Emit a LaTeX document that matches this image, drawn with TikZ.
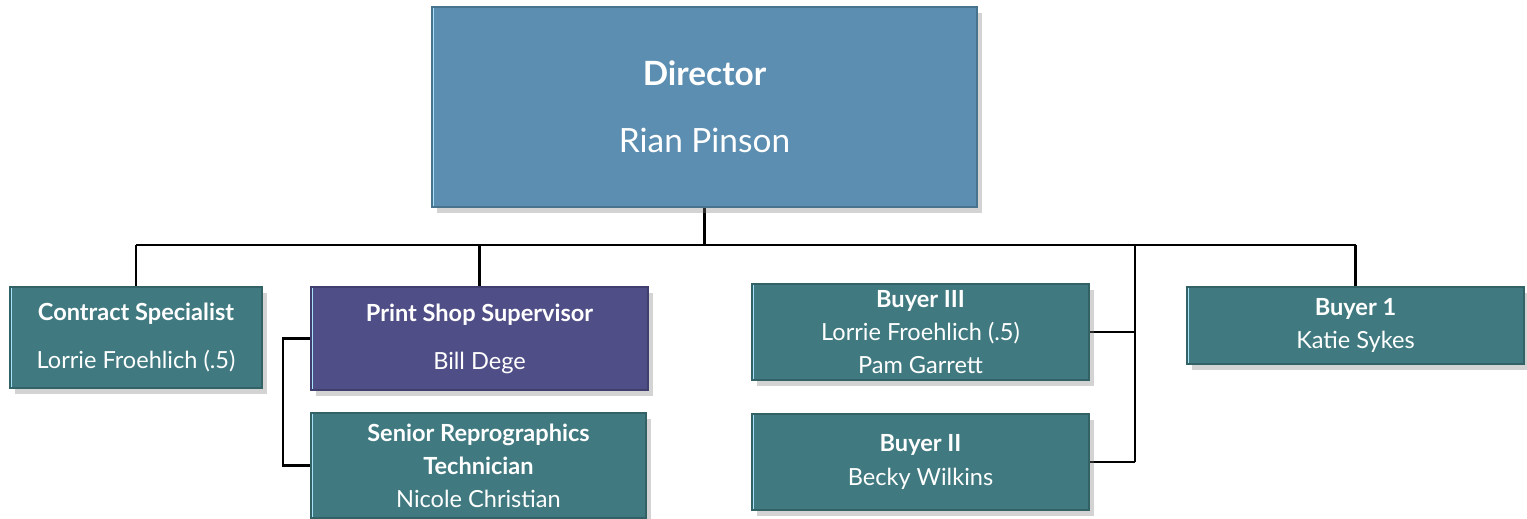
\documentclass[tikz,border=0pt]{standalone}
\usepackage{fontspec}
\setmainfont{Lato}
\usepackage{tikz}
\usetikzlibrary{shapes}
\usetikzlibrary{shadows}
\pgfdeclarelayer{edgelayer}
\pgfdeclarelayer{nodelayer}
\pgfsetlayers{edgelayer,nodelayer,main}
\tikzstyle{none}=[inner sep=0pt]
\tikzstyle{card}=[rectangle, inner sep=0pt, align=center, text=white, font=\fontsize{6.7}{9.4}\selectfont, drop shadow={shadow xshift=0.5mm, shadow yshift=-0.6mm, opacity=0.35}, path picture={\draw[line width=1.4pt, color=white!65!cyan] (path picture bounding box.north west) -- (path picture bounding box.south west);}]
\tikzstyle{link}=[line width=0.7pt, color=black]
\definecolor{bluebox}{RGB}{91,142,176}
\definecolor{tealbox}{RGB}{64,122,128}
\definecolor{purplebox}{RGB}{80,78,135}

\begin{document}
\begin{tikzpicture}[x=0.01cm, y=-0.01cm]
	\useasboundingbox (0, 0) rectangle (1527, 519);
	\begin{pgfonlayer}{nodelayer}
		\node [style=card, fill=bluebox, draw=bluebox!80!black, minimum width=5.45cm, minimum height=2cm, font=\fontsize{9.5}{11}\selectfont] (0) at (704.5, 107) {\textbf{Director}\\[8pt]Rian Pinson};
		\node [style=card, fill=tealbox, draw=tealbox!80!black, minimum width=2.52cm, minimum height=1.01cm] (1) at (136, 337.5) {\textbf{Contract Specialist}\\[4.3pt]Lorrie Froehlich (.5)};
		\node [style=card, fill=purplebox, draw=purplebox!80!black, minimum width=3.37cm, minimum height=1.03cm] (2) at (479.5, 338.5) {\textbf{Print Shop Supervisor}\\[4.3pt]Bill Dege};
		\node [style=card, fill=tealbox, draw=tealbox!80!black, minimum width=3.35cm, minimum height=1.05cm] (3) at (478.5, 465.5) {\textbf{Senior Reprographics}\\\textbf{Technician}\\Nicole Christian};
		\node [style=card, fill=tealbox, draw=tealbox!80!black, minimum width=3.37cm, minimum height=0.96cm] (4) at (920.5, 332) {\textbf{Buyer III}\\Lorrie Froehlich (.5)\\Pam Garrett};
		\node [style=card, fill=tealbox, draw=tealbox!80!black, minimum width=3.37cm, minimum height=0.96cm] (5) at (920.5, 462) {\textbf{Buyer II}\\Becky Wilkins};
		\node [style=card, fill=tealbox, draw=tealbox!80!black, minimum width=3.37cm, minimum height=0.77cm] (6) at (1355.5, 325.5) {\textbf{Buyer 1}\\Katie Sykes};
		\node [style=none] (7) at (704.5, 245) {};
		\node [style=none] (8) at (136, 245) {};
		\node [style=none] (9) at (479.5, 245) {};
		\node [style=none] (10) at (1135, 245) {};
		\node [style=none] (11) at (1355.5, 245) {};
		\node [style=none] (12) at (1135, 332) {};
		\node [style=none] (13) at (1135, 462) {};
		\node [style=none] (14) at (283, 338.5) {};
		\node [style=none] (15) at (283, 465.5) {};
	\end{pgfonlayer}
	\begin{pgfonlayer}{edgelayer}
		\draw [style=link] (0.south) to (7.center);
		\draw [style=link] (8.center) to (11.center);
		\draw [style=link] (8.center) to (1.north);
		\draw [style=link] (9.center) to (2.north);
		\draw [style=link] (11.center) to (6.north);
		\draw [style=link] (10.center) to (13.center);
		\draw [style=link] (12.center) to (4.east);
		\draw [style=link] (13.center) to (5.east);
		\draw [style=link] (2.west) to (14.center) to (15.center) to (3.west);
	\end{pgfonlayer}
\end{tikzpicture}
\end{document}
